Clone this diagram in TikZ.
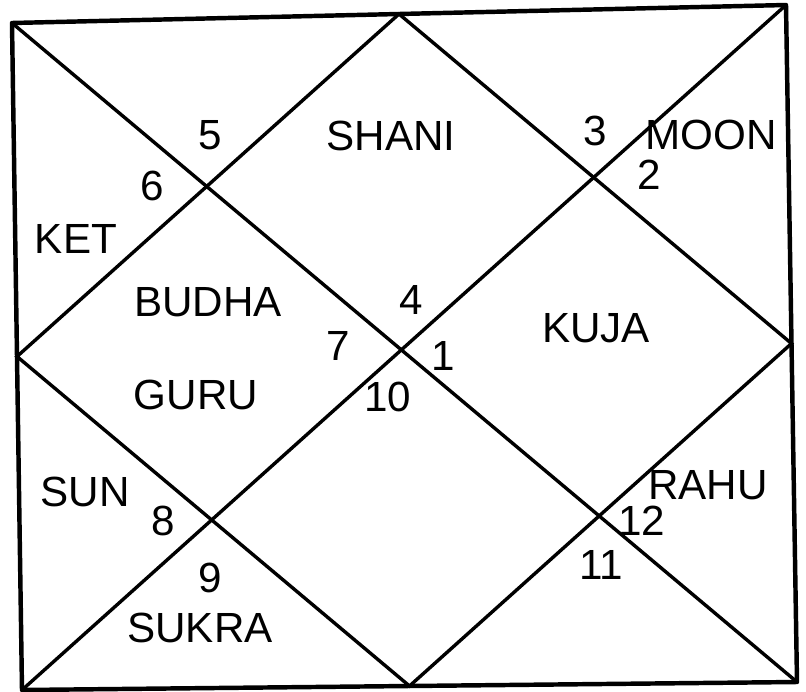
\documentclass[tikz,border=0pt]{standalone}
\usepackage{fontspec}
\setmainfont{Liberation Sans}
\usetikzlibrary{calc}
\begin{document}
\begin{tikzpicture}[x=0.03cm,y=-0.03cm,
frame/.style={line width=3.8pt,line join=round},
edge/.style={line width=2.9pt},
lbl/.style={inner sep=0pt,font=\fontsize{36}{40}\selectfont}]
\useasboundingbox(0,0)rectangle(806,691);
\coordinate(tl)at(12,23);\coordinate(tr)at(786,5);
\coordinate(br)at(797,682);\coordinate(bl)at(22,690);
\coordinate(tm)at($(tl)!.5!(tr)$);\coordinate(rm)at($(tr)!.5!(br)$);
\coordinate(bm)at($(bl)!.5!(br)$);\coordinate(lm)at($(tl)!.5!(bl)$);
\draw[frame](tl)--(tr)--(br)--(bl)--cycle;
\draw[edge](tl)--(br);\draw[edge](tr)--(bl);
\draw[edge](tm)--(rm)--(bm)--(lm)--cycle;
\node[lbl](h5)at(210,135){5};\node[lbl](h6)at(152,186){6};
\node[lbl](ket)at(76,239){KET};
\node[lbl](shani)at(391,136){SHANI};
\node[lbl](h3)at(595,131){3};\node[lbl](moon)at(711,135){MOON};
\node[lbl](h2)at(649,175){2};
\node[lbl](budha)at(208,302){BUDHA};\node[lbl](guru)at(196,395){GURU};
\node[lbl](h4)at(411,300){4};\node[lbl](h7)at(338,346){7};
\node[lbl](h1)at(443,356){1};\node[lbl](h10)at(388,397){10};
\node[lbl](kuja)at(596,328){KUJA};
\node[lbl](sun)at(85,492){SUN};\node[lbl](h8)at(163,521){8};
\node[lbl](h9)at(210,578){9};\node[lbl](sukra)at(200,628){SUKRA};
\node[lbl](rahu)at(708,485){RAHU};\node[lbl](h12)at(642,521){12};
\node[lbl](h11)at(601,565){11};
\end{tikzpicture}
\end{document}
